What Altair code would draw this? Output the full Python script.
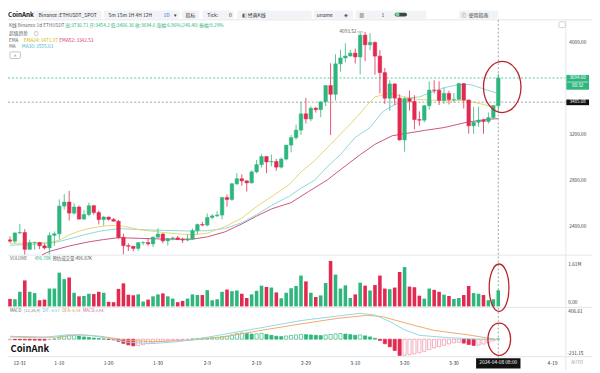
import altair as alt
import pandas as pd

# ---------------- values ----------------
# day index 0 = 2023-12-31 ... 99 = 2024-04-08
day_index = list(range(100))
opens = [2292, 2281, 2352, 2356, 2210, 2268, 2269, 2241, 2222, 2331,
         2345, 2585, 2620, 2524, 2577, 2472, 2511, 2588, 2529, 2468,
         2490, 2470, 2454, 2313, 2242, 2236, 2218, 2268, 2269, 2257,
         2316, 2343, 2283, 2304, 2309, 2296, 2290, 2299, 2372, 2425,
         2420, 2486, 2500, 2507, 2659, 2642, 2778, 2822, 2803, 2786,
         2881, 2944, 3014, 2967, 2971, 2922, 2992, 3113, 3178, 3243,
         3384, 3340, 3433, 3420, 3488, 3629, 3553, 3817, 3868, 3885,
         3910, 3877, 4066, 3982, 4003, 3884, 3741, 3519, 3643, 3520,
         3158, 3516, 3492, 3334, 3329, 3454, 3590, 3588, 3500, 3561,
         3508, 3509, 3646, 3504, 3280, 3311, 3330, 3317, 3351, 3454.2]
closes = [2281, 2352, 2356, 2210, 2268, 2269, 2241, 2222, 2331, 2345,
          2585, 2620, 2524, 2577, 2472, 2511, 2588, 2529, 2468, 2490,
          2470, 2454, 2313, 2242, 2236, 2218, 2268, 2269, 2257, 2316,
          2343, 2283, 2304, 2309, 2296, 2290, 2299, 2372, 2425, 2420,
          2486, 2500, 2507, 2659, 2642, 2778, 2822, 2803, 2786, 2881,
          2944, 3014, 2967, 2971, 2922, 2992, 3113, 3178, 3243, 3384,
          3340, 3433, 3420, 3488, 3629, 3553, 3817, 3868, 3885, 3910,
          3877, 4066, 3982, 4003, 3884, 3741, 3519, 3643, 3520, 3158,
          3516, 3492, 3334, 3329, 3454, 3590, 3588, 3500, 3561, 3508,
          3509, 3646, 3504, 3280, 3311, 3330, 3317, 3351, 3454, 3694.6]
highs = [2322, 2358, 2431, 2385, 2294, 2278, 2275, 2260, 2358, 2366,
         2643, 2690, 2717, 2610, 2590, 2550, 2615, 2595, 2545, 2500,
         2492, 2479, 2464, 2345, 2262, 2238, 2273, 2280, 2306, 2320,
         2393, 2350, 2307, 2319, 2326, 2310, 2340, 2391, 2434, 2448,
         2520, 2514, 2540, 2665, 2686, 2786, 2870, 2860, 2810, 2895,
         2985, 3032, 3018, 3032, 2993, 3005, 3115, 3200, 3290, 3490,
         3522, 3450, 3445, 3490, 3630, 3822, 3900, 3940, 3995, 3938,
         3950, 4087, 4093.52, 4083, 4010, 3935, 3782, 3676, 3647, 3552,
         3530, 3585, 3545, 3405, 3460, 3665, 3675, 3665, 3611, 3585,
         3565, 3655, 3651, 3508, 3445, 3445, 3342, 3395, 3460, 3730.71]
lows = [2266, 2265, 2341, 2165, 2207, 2207, 2212, 2210, 2166, 2240,
        2295, 2555, 2460, 2510, 2470, 2466, 2496, 2510, 2426, 2415,
        2459, 2450, 2300, 2168, 2196, 2193, 2197, 2248, 2240, 2230,
        2308, 2262, 2242, 2287, 2292, 2265, 2280, 2296, 2340, 2410,
        2410, 2470, 2490, 2470, 2580, 2630, 2765, 2760, 2710, 2780,
        2870, 2920, 2870, 2930, 2890, 2910, 2980, 3050, 3160, 3200,
        3300, 3320, 3395, 3355, 3452, 3200, 3500, 3750, 3830, 3880,
        3820, 3725, 3840, 3935, 3722, 3560, 3470, 3410, 3460, 3152,
        3056, 3413, 3250, 3280, 3310, 3420, 3560, 3460, 3468, 3465,
        3485, 3507, 3430, 3212, 3210, 3270, 3210, 3300, 3340, 3406.36]
volumes_k = [230, 220, 450, 800, 450, 410, 190, 210, 550, 550,
             1040, 840, 890, 420, 310, 320, 390, 380, 450, 420,
             140, 130, 540, 710, 360, 340, 370, 150, 210, 310,
             370, 400, 310, 240, 130, 170, 240, 370, 350, 350,
             500, 190, 220, 450, 520, 470, 490, 390, 260, 370,
             480, 640, 600, 580, 430, 250, 420, 560, 630, 950,
             770, 420, 290, 340, 720, 1400, 980, 550, 650, 260,
             370, 730, 640, 490, 660, 950, 550, 530, 580, 1060,
             1210, 610, 590, 330, 240, 550, 510, 450, 360, 320,
             230, 260, 350, 630, 410, 390, 350, 190, 220, 497]
macd_hist = [-8, -9, -10, -11, -12, -13, -13.5, -14, -6, 3,
             22, 38, 48, 50, 42, 30, 24, 16, 8, 4,
             -4, -10, -28, -55, -75, -88, -85, -74, -60, -48,
             -36, -30, -22, -16, -12, -8, -4, 4, 8, 12,
             16, 20, 24, 32, 40, 56, 72, 82, 76, 68,
             72, 78, 64, 52, 40, 34, 42, 50, 56, 64,
             60, 56, 52, 48, 56, 62, 70, 76, 68, 60,
             52, 56, 44, 30, 12, -16, -60, -100, -150, -215,
             -212, -205, -195, -180, -160, -137, -115, -98, -80, -62,
             -48, -40, -52, -70, -82, -78, -64, -46, -22, 3.94]

ema24_days = [0, 4, 8, 10, 12, 14, 16, 18, 20.5, 23, 26.5, 32, 36.9, 40, 43.5, 47, 50,
              53.5, 56.5, 59, 61.8, 65, 69.6, 72, 74, 76.9, 79.4, 82.7, 87, 92.5, 97, 98, 99]
ema24_vals = [2262, 2265, 2268, 2290, 2335, 2368, 2390, 2405, 2418, 2410, 2378, 2352, 2335, 2350,
              2405, 2480, 2580, 2680, 2767, 2880, 2980, 3120, 3322, 3440, 3530, 3564, 3536, 3508,
              3500, 3500, 3455, 3452, 3471.07]
ma30_days = [0, 5, 9, 12, 15.3, 18, 20.6, 22, 25, 30, 36.9, 40, 43.5, 47, 50, 53, 56.5, 59,
             61.8, 64.3, 67, 70, 73, 75.5, 77, 80.8, 83, 86, 88, 91, 93.5, 96.5, 98.6, 99]
ma30_vals = [2245, 2255, 2268, 2300, 2339, 2365, 2382, 2390, 2383, 2376, 2368, 2372, 2390, 2440,
             2510, 2590, 2667, 2740, 2810, 2925, 3030, 3180, 3265, 3400, 3440, 3522, 3530, 3580,
             3610, 3638, 3636, 3593, 3564, 3555.63]
ema52_days = [6.5, 8, 12, 16, 19, 22, 26.5, 32, 37, 40, 43.5, 47, 50, 53, 57, 60.5, 64.3, 67,
              71, 74, 77.5, 80, 84, 88, 92.5, 96.5, 99]
ema52_vals = [2162, 2192, 2239, 2275, 2295, 2311, 2305, 2298, 2298, 2318, 2360, 2430, 2498, 2560,
              2615, 2710, 2810, 2900, 3030, 3120, 3194, 3212, 3240, 3265, 3310, 3335, 3342.53]
dif_days = [0, 6, 11.8, 16.3, 20.8, 23.7, 29, 34.3, 38, 44, 51.6, 59, 66.5, 71, 74, 77, 80,
            83, 89, 95, 99]
dif_vals = [30, 18, 59, 51, 0, -40, -58, -30, 3, 72, 159, 246, 306, 341, 319, 233, 124, 51,
            20, 0, -4.57]
dea_days = [0, 8.8, 14, 18.6, 23.7, 29, 36.5, 44, 51.6, 59, 66.5, 72.5, 75.5, 81.6, 86, 92.7, 99]
dea_vals = [38, 25, 59, 37, -15, -32, -15, 38, 124, 202, 276, 315, 298, 189, 116, 59, -6.54]

price_ticks = [2400, 2800, 3200, 4000]
date_tick_days = [10, 20, 30, 40, 50, 60, 70, 80, 90, 110]
date_tick_labels = ["1-10", "1-20", "1-30", "2-9", "2-19", "2-29", "3-10",
                    "3-20", "3-30", "4-19"]
first_date_day = 0
first_date_label = "12-31"
last_price = 3694.6
cross_price = 3485.08
cross_day = 99
peak_day = 72
peak_price = 4093.52
# hand-drawn red ellipses: (day, value) centres in each panel
ring_main = (99.8, 3617)
ring_vol = (99.16, 577)
ring_macd = (99.2, -1)

# ---------------- styling ----------------
GREEN = "#2EB67D"
RED = "#E2294F"
PINKH = "#EE8AA3"
FONT = "Noto Sans CJK SC"

PX = alt.Scale(domain=[0, 100], range=[-3, 507], nice=False, zero=False)


def ys(dom, rng):
    return alt.Scale(domain=dom, range=rng, nice=False, zero=False)


PY = ys([2160, 4194], [248, 10])
VY = ys([0, 1610], [300, 247])
MY = ys([-231.15, 406.61], [351, 302])

XI = alt.X("i:Q", scale=PX, axis=None)

df = pd.DataFrame({"i": day_index, "o": opens, "h": highs, "l": lows, "c": closes,
                   "v": volumes_k, "m": macd_hist})
df["col"] = [GREEN if c >= o else RED for o, c in zip(opens, closes)]
prev = df["m"].shift(1).fillna(df["m"])
mf, ms = [], []
for m, p in zip(df["m"], prev):
    inc = m >= p
    if m >= 0:
        mf.append("white" if inc else GREEN)
        ms.append(GREEN)
    else:
        mf.append("white" if inc else RED)
        ms.append(PINKH if inc else RED)
df["mfill"] = mf
df["mstroke"] = ms

one = pd.DataFrame({"k": [0]})


def txt(s, x, y, size=4.8, color="#555", align="left", weight="normal", font=FONT):
    return alt.Chart(one).mark_text(text=s, fontSize=size, color=color, align=align,
                                    baseline="middle", font=font, fontWeight=weight).encode(
        x=alt.value(x), y=alt.value(y))


def box(x0, x1, y0, y1, fill, stroke=None, r=0, sw=0.8):
    kw = dict(fill=fill, cornerRadius=r)
    if stroke:
        kw.update(stroke=stroke, strokeWidth=sw)
    return alt.Chart(one).mark_rect(**kw).encode(
        x=alt.value(x0), x2=alt.value(x1), y=alt.value(y0), y2=alt.value(y1))


def hline(y, x0=0, x1=592, color="#E4E6EB", dash=None, sw=1):
    kw = dict(color=color, strokeWidth=sw)
    if dash:
        kw["strokeDash"] = dash
    return alt.Chart(one).mark_rule(**kw).encode(
        x=alt.value(x0), x2=alt.value(x1), y=alt.value(y))


def ellipse_path(a, b=1.0):
    k = 0.5523
    return (f"M {a} 0 C {a} {k*b} {k*a} {b} 0 {b} C {-k*a} {b} {-a} {k*b} {-a} 0 "
            f"C {-a} {-k*b} {-k*a} {-b} 0 {-b} C {k*a} {-b} {a} {-k*b} {a} 0 Z")


layers = []

# ---- toolbar ----
buttons = [(26, 95), (97, 174), (176, 194), (197, 229), (232, 308), (310, 350), (352, 424), (457, 497)]
for a, b in buttons:
    layers.append(box(a, b, 0, 8.3, "#F2F3F6", r=2))
layers += [
    txt("CoinAnk", 0, 4.2, size=6.4, color="#111", weight="bold"),
    txt("Binance :ETHUSDT_SPOT", 60.5, 4.2, size=5, color="#333", align="center"),
    txt("5m  15m  1H  4H  12H", 102, 4.2, size=5, color="#333"),
    txt("1D", 157.7, 4.2, size=5, color="#2F6BE6"),
    txt("▾", 168.5, 4.2, size=5, color="#333"),
    txt("指标", 185, 4.2, size=5, color="#333", align="center"),
    txt("Tick:", 202, 4.2, size=5, color="#333"),
    txt("0", 224, 4.2, size=5, color="#333"),
    txt("◧", 237, 4.2, size=5, color="#555"),
    txt("经典K线", 243, 4.2, size=5, color="#333"),
    txt("uname", 313, 4.2, size=5, color="#333"),
    txt("◈", 341, 4.2, size=5, color="#555"),
    txt("▦", 356, 4.2, size=5, color="#555"),
    txt("1", 378.5, 4.2, size=5, color="#333"),
    box(392, 404.5, 2.2, 6.2, "#3A4A40", r=2),
    box(392.5, 397, 2.6, 5.8, "#6FD39A", r=2),
    txt("ⓘ", 462, 4.2, size=5, color="#333", align="center"),
    txt("使用指南", 467, 4.2, size=5, color="#333"),
]

# ---- panel frames ----
layers += [
    hline(9.5),
    hline(248),
    hline(301),
    hline(351),
    alt.Chart(one).mark_rule(color="#E4E6EB").encode(
        x=alt.value(565.5), y=alt.value(9.5), y2=alt.value(365)),
    box(558.5, 565, 11.5, 17.5, "white", stroke="#B8BCC4", r=1.5, sw=0.7),
]


# ---- indicator lines (main panel) ----
def line_layer(days, vals, scale, color, sw=1.0):
    d = pd.DataFrame({"i": days, "v": vals})
    return alt.Chart(d).mark_line(color=color, strokeWidth=sw).encode(
        x=XI, y=alt.Y("v:Q", scale=scale, axis=None))


layers += [
    line_layer(ema52_days, ema52_vals, PY, "#C9567E"),
    line_layer(ma30_days, ma30_vals, PY, "#8FD6DA"),
    line_layer(ema24_days, ema24_vals, PY, "#E8D670"),
]

# ---- reference lines ----
lv = pd.DataFrame({"p": [last_price]})
cv = pd.DataFrame({"p": [cross_price]})
cd = pd.DataFrame({"i": [cross_day]})
layers += [
    alt.Chart(lv).mark_rule(color="#54C79E", strokeDash=[2, 2], strokeWidth=1).encode(
        y=alt.Y("p:Q", scale=PY, axis=None), x=alt.value(0), x2=alt.value(565)),
    alt.Chart(cv).mark_rule(color="#8A8A8A", strokeDash=[2, 2], strokeWidth=0.8).encode(
        y=alt.Y("p:Q", scale=PY, axis=None), x=alt.value(0), x2=alt.value(565)),
    alt.Chart(cd).mark_rule(color="#8A8A8A", strokeDash=[2, 2], strokeWidth=0.8).encode(
        x=XI, y=alt.value(9.5), y2=alt.value(352)),
]

# ---- candles ----
layers += [
    alt.Chart(df).mark_rule(strokeWidth=0.8).encode(
        x=XI, y=alt.Y("l:Q", scale=PY, axis=None), y2="h:Q",
        color=alt.Color("col:N", scale=None)),
    alt.Chart(df).mark_bar(size=3.6, strokeWidth=0.5).encode(
        x=XI, y=alt.Y("o:Q", scale=PY, axis=None), y2="c:Q",
        fill=alt.Fill("col:N", scale=None), stroke=alt.Stroke("col:N", scale=None)),
]

# peak label
pk = pd.DataFrame({"i": [peak_day - 1.6], "i2": [peak_day - 0.4], "p": [peak_price],
                   "t": [f"{peak_price:.2f}"]})
layers += [
    alt.Chart(pk).mark_rule(color="#777", strokeWidth=0.6).encode(
        x=XI, x2="i2:Q", y=alt.Y("p:Q", scale=PY, axis=None)),
    alt.Chart(pk).mark_text(align="right", baseline="middle", fontSize=4.8, color="#555",
                            font=FONT, dx=-0.8).encode(
        x=XI, y=alt.Y("p:Q", scale=PY, axis=None), text="t:N"),
]

# ---- volume ----
layers.append(alt.Chart(df).mark_bar(size=3.6).encode(
    x=XI, y=alt.Y("v:Q", scale=VY, axis=None), y2=alt.datum(0),
    fill=alt.Fill("col:N", scale=None)))

# ---- MACD ----
layers += [
    alt.Chart(df).mark_bar(size=3.2, strokeWidth=0.7).encode(
        x=XI, y=alt.Y("m:Q", scale=MY, axis=None), y2=alt.datum(0),
        fill=alt.Fill("mfill:N", scale=None), stroke=alt.Stroke("mstroke:N", scale=None)),
    line_layer(dea_days, dea_vals, MY, "#EFAA6E"),
    line_layer(dif_days, dif_vals, MY, "#92D8E2"),
]

# ---- right axis labels ----
pt = pd.DataFrame({"p": price_ticks, "t": [f"{p:.2f}" for p in price_ticks]})
layers.append(alt.Chart(pt).mark_text(align="left", baseline="middle", fontSize=4.8,
                                      color="#333", font=FONT).encode(
    x=alt.value(569), y=alt.Y("p:Q", scale=PY, axis=None), text="t:N"))
vt = pd.DataFrame({"v": [1610, 0], "t": ["1.61M", "0.00"]})
layers += [
    alt.Chart(vt.iloc[[0]]).mark_text(align="left", baseline="top", fontSize=4.8, color="#333",
                                      font=FONT, dy=8).encode(
        x=alt.value(568), y=alt.Y("v:Q", scale=VY, axis=None), text="t:N"),
    alt.Chart(vt.iloc[[1]]).mark_text(align="left", baseline="bottom", fontSize=4.8,
                                      color="#333", font=FONT, dy=-1.5).encode(
        x=alt.value(568), y=alt.Y("v:Q", scale=VY, axis=None), text="t:N"),
]
mt = pd.DataFrame({"m": [406.61, -231.15], "t": ["406.61", "-231.15"]})
layers += [
    alt.Chart(mt.iloc[[0]]).mark_text(align="left", baseline="top", fontSize=4.8, color="#333",
                                      font=FONT, dy=0.5).encode(
        x=alt.value(568), y=alt.Y("m:Q", scale=MY, axis=None), text="t:N"),
    alt.Chart(mt.iloc[[1]]).mark_text(align="left", baseline="bottom", fontSize=4.8,
                                      color="#333", font=FONT, dy=-0.5).encode(
        x=alt.value(567), y=alt.Y("m:Q", scale=MY, axis=None), text="t:N"),
]

# current price / crosshair tags
tag = pd.DataFrame({"p0": [3721, 3508], "p1": [3593, 3459], "f": [GREEN, "#111"]})
tagt = pd.DataFrame({"p": [last_price, 3628, cross_price],
                     "t": [f"{last_price:.2f}", "00:32", f"{cross_price:.2f}"]})
layers += [
    alt.Chart(tag).mark_rect().encode(
        x=alt.value(566), x2=alt.value(589),
        y=alt.Y("p0:Q", scale=PY, axis=None), y2="p1:Q", fill=alt.Fill("f:N", scale=None)),
    alt.Chart(one).mark_rule(color="white", strokeWidth=0.6).encode(
        x=alt.value(567), x2=alt.value(588), y=alt.value(72.6)),
    alt.Chart(tagt).mark_text(align="center", baseline="middle", fontSize=4.6, color="white",
                              font=FONT).encode(
        x=alt.value(577.5), y=alt.Y("p:Q", scale=PY, axis=None), text="t:N"),
]

# ---- date axis ----
dt = pd.DataFrame({"i": date_tick_days, "t": date_tick_labels})
d0 = pd.DataFrame({"i": [first_date_day], "t": [first_date_label]})
db = pd.DataFrame({"i": [cross_day - 4.5], "i2": [cross_day + 4.5]})
layers += [
    alt.Chart(dt).mark_text(baseline="middle", fontSize=5, color="#333", font=FONT).encode(
        x=XI, y=alt.value(357.5), text="t:N"),
    alt.Chart(d0).mark_text(baseline="middle", align="left", fontSize=5, color="#333",
                            font=FONT, dx=3.5).encode(
        x=XI, y=alt.value(357.5), text="t:N"),
    alt.Chart(db).mark_rect(fill="#111").encode(
        x=XI, x2="i2:Q", y=alt.value(352.5), y2=alt.value(363)),
    alt.Chart(pd.DataFrame({"i": [cross_day], "t": ["2024-04-08 08:00"]})).mark_text(
        baseline="middle", fontSize=4.9, color="white", font=FONT).encode(
        x=XI, y=alt.value(357.8), text="t:N"),
    txt("AUTO", 577, 357.5, size=4.6, color="#9A9A9A", align="center"),
]

# ---- legends / info rows ----
layers += [
    txt("K线  Binance 1d ETHUSDT", 1, 16, color="#666"),
    txt("高:3730.71  开:3454.2  低:3406.36  收:3694.6  涨幅:6.96%(240.40)  振幅:9.29%", 58, 16,
        color=GREEN),
    txt("超级趋势", 1, 23.7, color="#666"),
    txt("◎", 26, 23.7, color="#888"),
    txt("EMA", 1, 30.7, color="#666"),
    txt("EMA24: 3471.07", 16, 30.7, color="#D2B400"),
    txt("EMA52: 3342.53", 52, 30.7, color="#D6336C"),
    txt("MA", 1, 37.3, color="#666"),
    txt("MA30: 3555.63", 14, 37.3, color="#45B8C8"),
    box(2, 12.5, 42, 48.7, "white", stroke="#A8A8A8", r=1, sw=0.7),
    txt("^", 7.25, 46, size=5, color="#666", align="center"),
    txt("VOLUME", 2, 251.7, size=4.5, color="#666"),
    txt("496.78K", 27, 251.7, size=4.5, color=GREEN),
    txt("预估成交量:496.87K", 45, 251.7, size=4.5, color="#555"),
    txt("MACD", 2, 305, size=4.2, color="#666"),
    txt("(12,26,9)", 16, 305, size=4.2, color="#888"),
    txt("DIF:-4.57", 35, 305, size=4.2, color="#5CC3D6"),
    txt("DEA:-6.54", 55, 305, size=4.2, color="#E8934A"),
    txt("MACD:3.94", 76, 305, size=4.2, color="#E0609A"),
    txt("CoinAnk", 2.6, 343.7, size=9.5, color="#111", weight="bold"),
]


# ---- hand-drawn red ellipses ----
def ring(center, scale, field, rx, ry):
    d = pd.DataFrame({"i": [center[0]], field: [center[1]]})
    return alt.Chart(d).mark_point(shape=ellipse_path(round(rx / ry, 4)), size=(2 * ry) ** 2,
                                   filled=False, stroke="#B8232B", strokeWidth=1.3,
                                   opacity=1).encode(
        x=XI, y=alt.Y(f"{field}:Q", scale=scale, axis=None))


layers += [
    ring(ring_main, PY, "p", 19, 26),
    ring(ring_vol, VY, "v", 10, 24),
    ring(ring_macd, MY, "m", 11.5, 16.3),
]

chart = alt.layer(*layers).resolve_scale(y="independent").properties(
    width=592, height=365, padding=0,
    autosize=alt.AutoSizeParams(type="none"), background="white"
).configure_view(stroke=None)

chart.save("out.html", embed_options={"renderer": "svg", "actions": False})
